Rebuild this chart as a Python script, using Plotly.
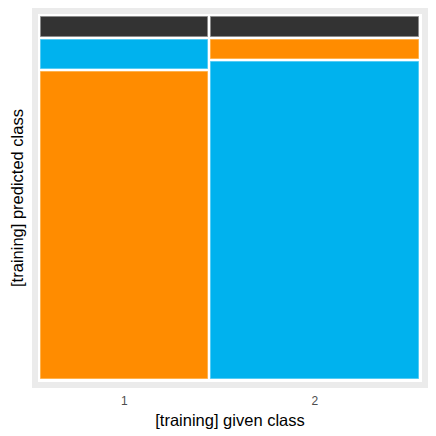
import plotly.graph_objects as go

# Data (proportions read from the mosaic)
given_classes = ["1", "2"]
col_share = [0.444, 0.556]          # share of observations per given class
pred_1 = [0.864, 0.054]             # predicted class 1 within each given class
pred_2 = [0.081, 0.891]             # predicted class 2 within each given class
pred_na = [0.055, 0.055]            # top (dark) segment within each given class

fill = {"1": "#FF8C00", "2": "#00B2EE", "NA": "#333333"}
edge = {"1": "#FFB24D", "2": "#55CCF4", "NA": "#8C8C8C"}

xgap, ygap = 0.008, 0.0093
xpad, ypad = 0.008, 0.0085

# stacking order bottom-to-top per column: correct class, other class, dark
values = {"1": pred_1, "2": pred_2, "NA": pred_na}
orders = [["1", "2", "NA"], ["2", "1", "NA"]]

lefts = []
acc = 0.0
for w in col_share:
    lefts.append(acc)
    acc += w + xgap
centers = [l + w / 2 for l, w in zip(lefts, col_share)]

bases = {k: [0.0, 0.0] for k in values}
for ci, order in enumerate(orders):
    b = 0.0
    for k in order:
        bases[k][ci] = b
        b += values[k][ci] + ygap

fig = go.Figure()
for k in ["1", "2", "NA"]:
    fig.add_trace(go.Bar(
        x=centers, y=values[k], base=bases[k], width=col_share,
        marker=dict(color=fill[k], line=dict(color=edge[k], width=1)),
        showlegend=False, hoverinfo="skip",
    ))

fig.update_layout(
    width=428, height=428,
    margin=dict(l=30, r=14, t=6, b=54),
    paper_bgcolor="white", plot_bgcolor="white",
    barmode="overlay", bargap=0,
    font=dict(family="Liberation Sans, Arial, sans-serif"),
    xaxis=dict(
        range=[-xpad, sum(col_share) + xgap + xpad],
        tickvals=centers, ticktext=given_classes,
        tickfont=dict(size=12, color="#4D4D4D"), ticklabelstandoff=3,
        showgrid=False, zeroline=False, ticks="", automargin=False,
        showline=True, mirror=True, linecolor="#EBEBEB", linewidth=6,
        title=dict(text="[training] given class", font=dict(size=16.5, color="black"), standoff=9),
    ),
    yaxis=dict(
        range=[-ypad, 1 + 2 * ygap + ypad],
        showticklabels=False, showgrid=False, zeroline=False, ticks="", automargin=False,
        showline=True, mirror=True, linecolor="#EBEBEB", linewidth=6,
        title=dict(text="[training] predicted class", font=dict(size=16.5, color="black"), standoff=10),
    ),
)

fig.write_html("out.html")
